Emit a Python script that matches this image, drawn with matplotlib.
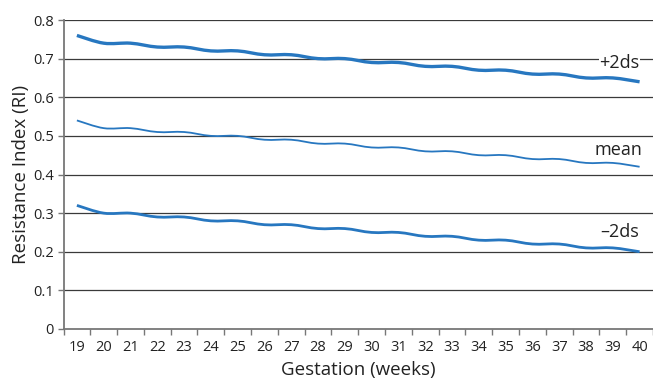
import numpy as np
import matplotlib
matplotlib.use('Agg')
from matplotlib import pyplot as plt
from matplotlib.path import Path
from matplotlib.patches import PathPatch

plt.rcParams['font.family'] = ['Open Sans', 'DejaVu Sans']

# gestational age (weeks) and RI reference curves
weeks = list(range(19, 41))
plus_2ds = [0.76, 0.74, 0.74, 0.73, 0.73, 0.72, 0.72, 0.71, 0.71, 0.70, 0.70,
            0.69, 0.69, 0.68, 0.68, 0.67, 0.67, 0.66, 0.66, 0.65, 0.65, 0.64]
mean_ri = [0.54, 0.52, 0.52, 0.51, 0.51, 0.50, 0.50, 0.49, 0.49, 0.48, 0.48,
           0.47, 0.47, 0.46, 0.46, 0.45, 0.45, 0.44, 0.44, 0.43, 0.43, 0.42]
minus_2ds = [0.32, 0.30, 0.30, 0.29, 0.29, 0.28, 0.28, 0.27, 0.27, 0.26, 0.26,
             0.25, 0.25, 0.24, 0.24, 0.23, 0.23, 0.22, 0.22, 0.21, 0.21, 0.20]
curve_labels = ['+2ds', 'mean', '\u20132ds']
y_ticks = [0, 0.1, 0.2, 0.3, 0.4, 0.5, 0.6, 0.7, 0.8]
y_ticklabels = ['0', '0.1', '0.2', '0.3', '0.4', '0.5', '0.6', '0.7', '0.8']

BLUE = '#2777c0'


def smooth_path(x, y, t=1.0 / 6):
	# cubic bezier through every point, catmull-rom style tangents
	x = np.asarray(x, float)
	y = np.asarray(y, float)
	n = len(x)
	verts = [(x[0], y[0])]
	codes = [Path.MOVETO]
	for i in range(n - 1):
		p0 = max(i - 1, 0)
		p3 = min(i + 2, n - 1)
		c1 = (x[i] + (x[i + 1] - x[p0]) * t, y[i] + (y[i + 1] - y[p0]) * t)
		c2 = (x[i + 1] - (x[p3] - x[i]) * t, y[i + 1] - (y[p3] - y[i]) * t)
		verts += [c1, c2, (x[i + 1], y[i + 1])]
		codes += [Path.CURVE4] * 3
	return Path(verts, codes)


fig = plt.figure(figsize=(6.53, 3.79), dpi=100, facecolor='w')
ax = fig.add_axes([63.5 / 653, 1 - 329 / 379, 1 - 63.5 / 653, 309 / 379])

for yv in y_ticks[1:]:
	ax.axhline(yv, color='#3a3a3a', lw=0.9, zorder=1)

for vals, lw in zip([plus_2ds, mean_ri, minus_2ds], [2.4, 1.3, 2.0]):
	ax.add_patch(PathPatch(smooth_path(weeks, vals), fill=False,
	                       edgecolor=BLUE, lw=lw, capstyle='butt', zorder=3))

# curve names sit just above the right end of each curve
label_pos = [(39.25, plus_2ds[-1] + 0.049), (39.2, mean_ri[-1] + 0.043), (39.25, minus_2ds[-1] + 0.051)]
for text, (lx, ly) in zip(curve_labels, label_pos):
	ax.text(lx, ly, text, fontsize=13, color='#222222', ha='center', va='center', zorder=2,
	        bbox=dict(facecolor='white', edgecolor='none', pad=0.5))

ax.set_xlim(18.5, 18.5 + 589.5 / 27)
ax.set_ylim(0, 0.8)
ax.set_yticks(y_ticks)
ax.set_yticklabels(y_ticklabels)
ax.set_xticks(weeks)
ax.set_xticklabels([str(w) for w in weeks])
ax.set_xticks(np.arange(18.5, 41, 1.0), minor=True)
ax.tick_params(axis='x', which='major', length=0, pad=8, labelsize=10.5, labelcolor='#222222')
ax.tick_params(axis='x', which='minor', length=4, width=1.0, color='#777777', direction='out')
ax.tick_params(axis='y', length=4, width=1.0, color='#777777', labelsize=10.5, labelcolor='#222222', pad=3)

for side in ['top', 'right']:
	ax.spines[side].set_visible(False)
for side in ['left', 'bottom']:
	ax.spines[side].set_color('#777777')
	ax.spines[side].set_linewidth(1.3)

ax.set_xlabel('Gestation (weeks)', fontsize=13.5, color='#222222', labelpad=4)
ax.set_ylabel('Resistance Index (RI)', fontsize=13.5, color='#222222', labelpad=2)

fig.savefig('out.png', dpi=100)
